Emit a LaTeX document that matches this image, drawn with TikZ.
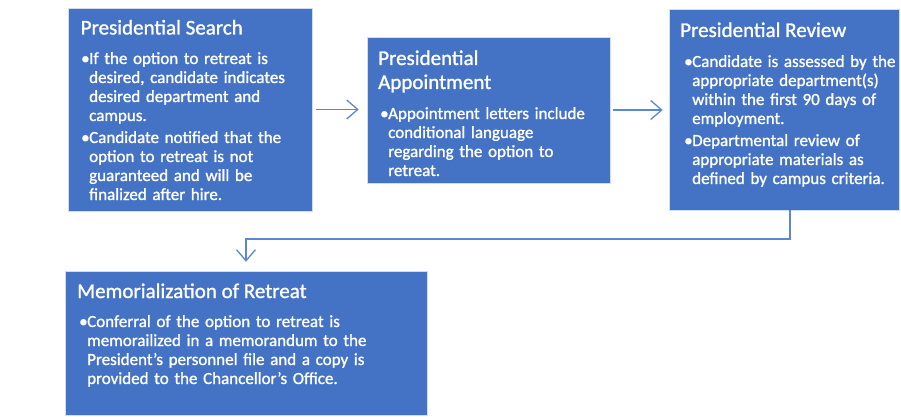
\documentclass[tikz,border=0pt]{standalone}
\usepackage{fontspec}
\setmainfont{Carlito}
\newfontfamily\boxfont[FakeBold=1.2]{Carlito}
\usetikzlibrary{arrows.meta}
\definecolor{boxblue}{HTML}{4472C4}
\definecolor{linkblue}{HTML}{5C88D3}
\newcommand{\bul}{\makebox[8pt][l]{•}}
\newcommand{\ind}{\hspace*{8pt}}
\begin{document}
\begin{tikzpicture}[x=1pt,y=1pt,
  procbox/.style={rectangle, fill=boxblue, draw=white!75!boxblue, line width=0.6pt, inner sep=0pt},
  titletext/.style={anchor=base west, inner sep=0pt, text=white, font=\boxfont\fontsize{21}{24}\selectfont, align=left},
  bodytext/.style={anchor=base west, inner sep=0pt, text=white, font=\boxfont\fontsize{17}{19}\selectfont, text width=300pt, align=left},
  conn/.style={draw=linkblue, line width=1.3pt, -{Straight Barb[length=11pt,width=19pt,line width=1.3pt]}}
]
\useasboundingbox (0,0) rectangle (901,-417);
% boxes
\node[procbox, minimum width=244pt, minimum height=203pt] (b1) at (190,-109.5) {};
\node[procbox, minimum width=243pt, minimum height=146pt] (b2) at (488.5,-110) {};
\node[procbox, minimum width=230pt, minimum height=201pt] (b3) at (784,-109.5) {};
\node[procbox, minimum width=362pt, minimum height=144pt] (b4) at (246,-343) {};
% box 1 text
\node[titletext] (t1) at (80.5,-34.5) {Presidential Search};
\node[bodytext] (x1) at (81,-64) {\bul If the option to retreat is\\
\ind desired, candidate indicates\\
\ind desired department and\\
\ind campus.\\[3pt]
\bul Candidate notified that the\\
\ind option to retreat is not\\
\ind guaranteed and will be\\
\ind finalized after hire.};
% box 2 text
\node[titletext] (t2) at (378,-65) {Presidential};
\node[titletext] (t2b) at (378,-89) {Appointment};
\node[bodytext] (x2) at (380,-119) {\bul Appointment letters include\\
\ind conditional language\\
\ind regarding the option to\\
\ind retreat.};
% box 3 text
\node[titletext] (t3) at (680,-37) {Presidential Review};
\node[bodytext] (x3) at (684,-67) {\bul Candidate is assessed by the\\
\ind appropriate department(s)\\
\ind within the first 90 days of\\
\ind employment.\\[3pt]
\bul Departmental review of\\
\ind appropriate materials as\\
\ind defined by campus criteria.};
% box 4 text
\node[titletext] (t4) at (77,-298) {Memorialization of Retreat};
\node[bodytext] (x4) at (79,-327) {\bul Conferral of the option to retreat is\\
\ind memorailized in a memorandum to the\\
\ind President’s personnel file and a copy is\\
\ind provided to the Chancellor’s Office.};
% connectors
\coordinate (e1) at (790,-239);
\coordinate (e2) at (246,-239);
\draw[conn, shorten <=4pt, shorten >=8pt] (b1.east) -- (b1.east -| b2.west);
\draw[conn, shorten <=3pt, shorten >=6pt] (b2.east) -- (b2.east -| b3.west);
\draw[conn, shorten >=9pt] (b3.south -| e1) -- (e1) -- (e2) -- (b4.north);
\end{tikzpicture}
\end{document}
